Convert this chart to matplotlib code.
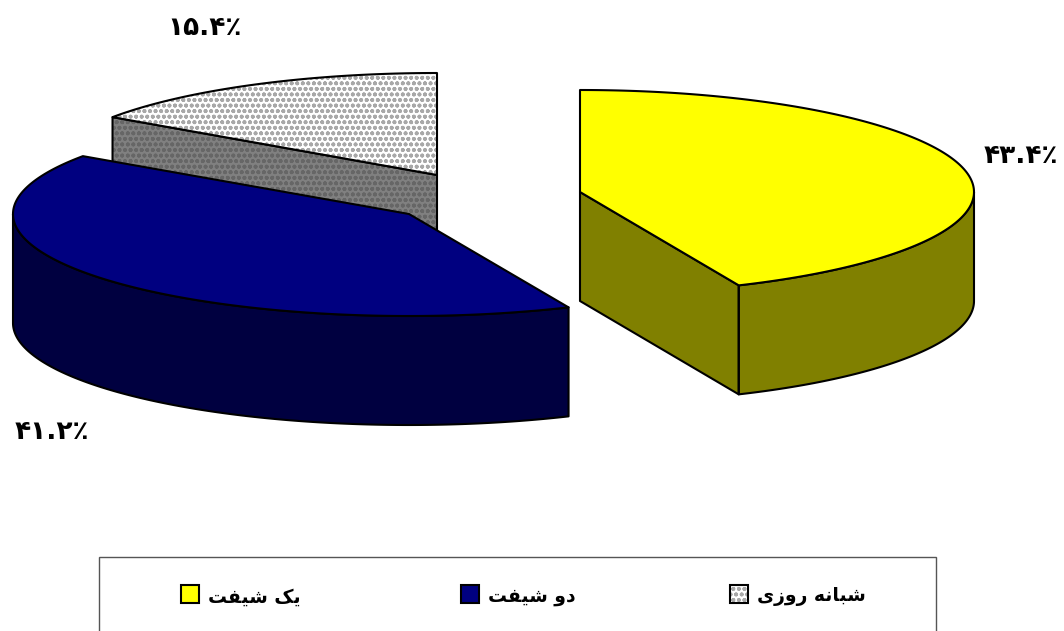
import numpy as np
import matplotlib
matplotlib.use("Agg")
import matplotlib.pyplot as plt
from matplotlib.patches import Polygon, Rectangle

# Persian text is stored in logical order, shaped by hand below
categories = ["یک شیفت", "دو شیفت", "شبانه روزی"]
shares = [43.4, 41.2, 15.4]
share_labels = ["۴۳.۴٪", "۴۱.۲٪", "۱۵.۴٪"]

top_colors = ["#FFFF00", "#000080", "#FFFFFF"]
side_colors = ["#808000", "#000040", "#808080"]
dot_colors = [None, None, "#A8A8A8"]
side_dot_colors = [None, None, "#666666"]

# pixel layout of the exploded pie
centers = [(580, 192), (409, 214), (437, 175)]
radii = [394, 396, 394]
label_pos = [(1021, 156), (52, 432), (205, 28)]
swatch_x = [181, 461, 730]
text_x = [208, 488, 757]
RY, DEPTH = 102, 109
DOTS = "ooo"

# (isolated, final, initial, medial) presentation forms
FORMS = {
    "ی": "\uFBFC\uFBFD\uFBFE\uFBFF",
    "ک": "\uFB8E\uFB8F\uFB90\uFB91",
    "ش": "\uFEB5\uFEB6\uFEB7\uFEB8",
    "ف": "\uFED1\uFED2\uFED3\uFED4",
    "ت": "\uFE95\uFE96\uFE97\uFE98",
    "ب": "\uFE8F\uFE90\uFE91\uFE92",
    "ن": "\uFEE5\uFEE6\uFEE7\uFEE8",
    "ه": "\uFEE9\uFEEA\uFEEB\uFEEC",
    "ا": "\uFE8D\uFE8E",
    "د": "\uFEA9\uFEAA",
    "و": "\uFEED\uFEEE",
    "ر": "\uFEAD\uFEAE",
    "ز": "\uFEAF\uFEB0",
}


def shape(text):
    """Join the letters and put them in visual order for matplotlib."""
    out = []
    for i, ch in enumerate(text):
        if ch not in FORMS:
            out.append(ch)
            continue
        prev_joins = i > 0 and text[i - 1] in FORMS and len(FORMS[text[i - 1]]) == 4
        next_joins = i + 1 < len(text) and text[i + 1] in FORMS
        forms = FORMS[ch]
        if len(forms) == 2:
            out.append(forms[1] if prev_joins else forms[0])
        elif prev_joins and next_joins:
            out.append(forms[3])
        elif prev_joins:
            out.append(forms[1])
        elif next_joins:
            out.append(forms[2])
        else:
            out.append(forms[0])
    return "".join(reversed(out))


def arc(center, rx, t0, t1):
    """Points on the pie ellipse, angles in degrees clockwise from the top."""
    t = np.radians(np.linspace(t0, t1, 200))
    return np.column_stack([center[0] + rx * np.sin(t), center[1] - RY * np.cos(t)])


def textured(ax, pts, face, dots, zorder):
    if dots is not None:
        ax.add_patch(Polygon(pts, facecolor=face, edgecolor=dots, hatch=DOTS,
                             linewidth=0, zorder=zorder))
    else:
        ax.add_patch(Polygon(pts, facecolor=face, edgecolor="none", zorder=zorder))
    ax.add_patch(Polygon(pts, fill=False, edgecolor="black", linewidth=1.5,
                         joinstyle="round", zorder=zorder + 0.1))


plt.rcParams["font.family"] = ["DejaVu Sans"]
plt.rcParams["hatch.linewidth"] = 1.2

fig = plt.figure(figsize=(10.64, 6.31), dpi=100)
ax = fig.add_axes([0, 0, 1, 1])
ax.set_xlim(0, 1064)
ax.set_ylim(631, 0)
ax.axis("off")

edges = np.concatenate([[0], np.cumsum(shares)]) * 3.6
drop = np.array([0, DEPTH])

# back slice first, so the blue one covers its lower part
for i, z in zip([2, 0, 1], [1, 3, 5]):
    c = np.array(centers[i])
    rx = radii[i]
    t0, t1 = edges[i], edges[i + 1]
    rim = arc(c, rx, t0, t1)

    # outer wall, only the part of the rim facing the viewer
    w0, w1 = max(t0, 90), min(t1, 270)
    if w1 > w0:
        wall = arc(c, rx, w0, w1)
        textured(ax, np.vstack([wall, wall[::-1] + drop]), side_colors[i], side_dot_colors[i], z)

    # cut faces that can be seen
    if i == 0:
        p = arc(c, rx, t1, t1)[0]
        textured(ax, np.array([c, p, p + drop, c + drop]), side_colors[i], None, z)
    if i == 2:
        p = arc(c, rx, t0, t0)[0]
        textured(ax, np.array([p, c, c + drop, p + drop]), side_colors[i], side_dot_colors[i], z)

    textured(ax, np.vstack([[c], rim]), top_colors[i], dot_colors[i], z + 1)

for pos, txt in zip(label_pos, share_labels):
    ax.text(pos[0], pos[1], txt, ha="center", va="center", fontsize=19,
            fontweight="bold", color="black")

# legend box runs off the bottom of the picture
ax.add_patch(Rectangle((99, 557), 837, 90, facecolor="white", edgecolor="#555555", linewidth=1))
for i in range(3):
    ax.add_patch(Rectangle((swatch_x[i], 585), 18, 18, facecolor=top_colors[i],
                           edgecolor=dot_colors[i] or "none", hatch=DOTS if dot_colors[i] else None,
                           linewidth=0, zorder=2))
    ax.add_patch(Rectangle((swatch_x[i], 585), 18, 18, fill=False, edgecolor="black",
                           linewidth=1.5, zorder=3))
    ax.text(text_x[i], 597, shape(categories[i]), ha="left", va="center",
            fontsize=13.5, fontweight="bold", color="black")

fig.savefig("out.png", dpi=100)
